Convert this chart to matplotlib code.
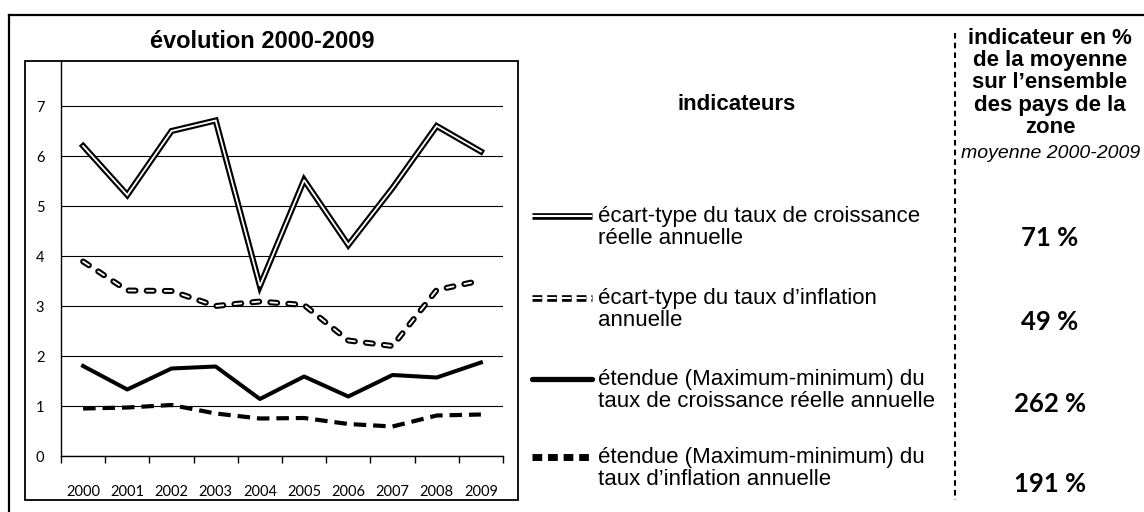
import matplotlib
matplotlib.use("Agg")
import matplotlib.pyplot as plt
import matplotlib.patheffects as pe

plt.rcParams['lines.scale_dashes'] = False

# --- data ---------------------------------------------------------------
years = ['2000', '2001', '2002', '2003', '2004', '2005', '2006', '2007', '2008', '2009']
sd_growth = [6.2, 5.22, 6.5, 6.71, 3.4, 5.52, 4.22, 5.36, 6.6, 6.09]
sd_inflation = [3.89, 3.31, 3.3, 3.0, 3.09, 3.02, 2.31, 2.2, 3.32, 3.51]
range_growth = [1.8, 1.33, 1.75, 1.79, 1.14, 1.59, 1.19, 1.62, 1.57, 1.87]
range_inflation = [0.95, 0.97, 1.02, 0.85, 0.75, 0.76, 0.64, 0.59, 0.81, 0.83]
yticks = [0, 1, 2, 3, 4, 5, 6, 7]

labels = ["écart-type du taux de croissance\nréelle annuelle",
          "écart-type du taux d’inflation\nannuelle",
          "étendue (Maximum-minimum) du\ntaux de croissance réelle annuelle",
          "étendue (Maximum-minimum) du\ntaux d’inflation annuelle"]
pct = ['71 %', '49 %', '262 %', '191 %']
header = "indicateur en %\nde la moyenne\nsur l’ensemble\ndes pays de la\nzone"

txt_font = 'Liberation Sans'
num_font = 'Lato'

W, H = 1144, 512
fig = plt.figure(figsize=(W / 100, H / 100), dpi=100)

# overlay in pixel coordinates for frames and side table
bg = fig.add_axes([0, 0, 1, 1], zorder=0)
bg.set_xlim(0, W)
bg.set_ylim(H, 0)
bg.axis('off')

bg.plot([9, W + 5], [15, 15], color='black', lw=1.6)
bg.plot([9, 9], [15, H + 5], color='black', lw=1.6)
bg.add_patch(plt.Rectangle((25, 61), 493, 439, fill=False, ec='black', lw=1.3))
bg.plot([955, 955], [33, 500], color='black', lw=1.5, ls=(0, (4, 3)))

bg.text(262, 41, "évolution 2000-2009", ha='center', va='center',
        fontsize=17, fontweight='bold', family=txt_font)
bg.text(737, 104, "indicateurs", ha='center', va='center',
        fontsize=16, fontweight='bold', family=txt_font)
bg.text(1050, 83, header, ha='center', va='center', fontsize=16,
        fontweight='bold', family=txt_font, linespacing=1.08)
bg.text(1051, 153, "moyenne 2000-2009", ha='center', va='center',
        fontsize=14, style='italic', family=txt_font)

rows = [216, 298, 379, 457]
pct_y = [238, 322, 404, 484]
for y, lab in zip(rows, labels):
    bg.text(598, y + 11.5, lab, ha='left', va='center', fontsize=16,
            family=txt_font, linespacing=1.05)
for y, p in zip(pct_y, pct):
    bg.text(1050, y, p, ha='center', va='center', fontsize=18.5,
            fontweight='bold', family=num_font)

# legend keys
hx = [532, 592]
bg.plot(hx, [rows[0]] * 2, color='black', lw=4.8, solid_capstyle='butt')
bg.plot(hx, [rows[0]] * 2, color='white', lw=1.5, solid_capstyle='butt')
bg.plot(hx, [rows[1]] * 2, color='white', lw=1.5, ls=(0, (7, 3.6)),
        dash_capstyle='butt',
        path_effects=[pe.Stroke(linewidth=4.8, foreground='black'), pe.Normal()])
bg.plot(hx, [rows[2]] * 2, color='black', lw=3.8, solid_capstyle='round')
bg.plot(hx, [rows[3]] * 2, color='black', lw=5.0, ls=(0, (7, 4.2)), dash_capstyle='butt')

# --- chart ----------------------------------------------------------------
ax = fig.add_axes([61 / W, (H - 456) / H, (503 - 61) / W, (456 - 61) / H], zorder=1)
ax.set_facecolor('none')
x = list(range(len(years)))

ax.plot(x, sd_growth, color='black', lw=4.4, solid_joinstyle='miter', zorder=3)
ax.plot(x, sd_growth, color='white', lw=1.3, solid_joinstyle='miter', zorder=3)
ax.plot(x, sd_inflation, color='white', lw=1.3, ls=(0, (5, 8)), dash_capstyle='round',
        path_effects=[pe.Stroke(linewidth=4.3, foreground='black'), pe.Normal()], zorder=3)
ax.plot(x, range_growth, color='black', lw=2.9, zorder=3)
ax.plot(x, range_inflation, color='black', lw=3.0, ls=(0, (9, 5)), dash_capstyle='butt', zorder=3)

ax.set_xlim(-0.5, len(years) - 0.5)
ax.set_ylim(0, 7.9)
ax.set_yticks(yticks)
ax.set_yticklabels([str(t) for t in yticks], family=num_font, fontsize=10.5)
ax.tick_params(axis='y', length=0, pad=12)
ax.set_xticks([i - 0.5 for i in range(len(years) + 1)])
ax.set_xticklabels([])
ax.set_xticks(x, minor=True)
ax.set_xticklabels(years, minor=True, family=num_font, fontsize=10.5)
ax.tick_params(axis='x', which='major', length=5, direction='out', width=1)
ax.tick_params(axis='x', which='minor', length=0, pad=21)
ax.grid(axis='y', color='black', lw=0.8)
ax.set_axisbelow(True)
for s in ['top', 'right']:
    ax.spines[s].set_visible(False)
ax.spines['left'].set_linewidth(1)
ax.spines['bottom'].set_linewidth(1)

fig.savefig('out.png', dpi=100)
